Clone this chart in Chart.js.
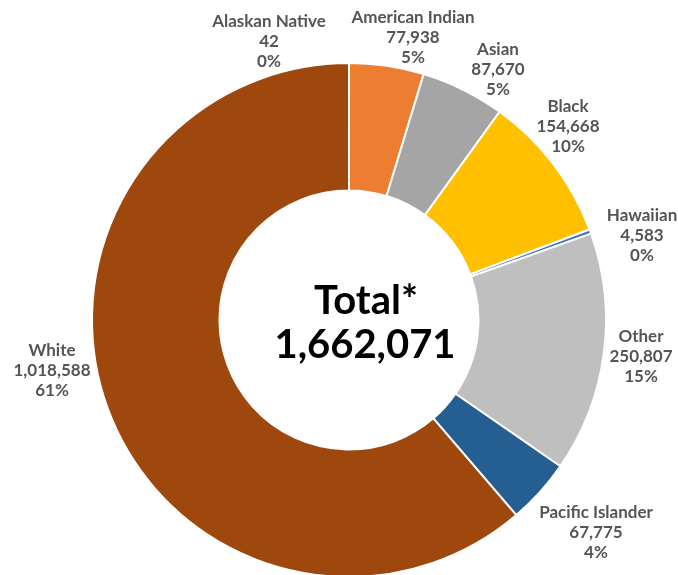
<!DOCTYPE html>
<html><head><meta charset="utf-8">
<script src="https://cdn.jsdelivr.net/npm/chart.js@4/dist/chart.umd.min.js"></script>
<style>
html,body{margin:0;padding:0;background:#fff;overflow:hidden;}
#wrap{position:relative;width:678px;height:600px;}
</style></head><body>
<div id="wrap"><canvas id="c"></canvas></div>
<script>
const categories = ["Alaskan Native","American Indian","Asian","Black","Hawaiian","Other","Pacific Islander","White"];
const populations = [42, 77938, 87670, 154668, 4583, 250807, 67775, 1018588];
const percentLabels = ["0%","5%","5%","10%","0%","15%","4%","61%"];
const totalLabel = ["Total*", "1,662,071"];
const colors = ["#4472C4","#ED7D31","#A5A5A5","#FFC000","#4472C4","#BFBFBF","#255E91","#9E480E"];
// label anchor offsets (middle line) relative to the doughnut centre
const labelOffsets = [[-80,-278],[64,-282],[149,-250],[219,-193],[293,-84],[292,37],[247,213],[-297,51]];

const fmt = n => n.toLocaleString('en-US');

const labelPlugin = {
  id: 'labelPlugin',
  afterDraw(chart) {
    const ctx = chart.ctx;
    const arc0 = chart.getDatasetMeta(0).data[0];
    const cx = arc0.x, cy = arc0.y;
    ctx.save();
    ctx.textAlign = 'center';
    ctx.textBaseline = 'middle';
    ctx.fillStyle = '#555555';
    ctx.font = 'bold 17px Lato';
    const lh = 20;
    categories.forEach((name, i) => {
      const x = cx + labelOffsets[i][0], y = cy + labelOffsets[i][1];
      const lines = [name, fmt(populations[i]), percentLabels[i]];
      lines.forEach((t, k) => ctx.fillText(t, x, y + (k - 1) * lh));
    });
    ctx.fillStyle = '#000';
    ctx.font = 'bold 40px Lato';
    ctx.fillText(totalLabel[0], cx + 17, cy - 19);
    ctx.fillText(totalLabel[1], cx + 16, cy + 25);
    ctx.restore();
  }
};

new Chart(document.getElementById('c'), {
  type: 'doughnut',
  data: {
    labels: categories,
    datasets: [{
      data: populations,
      backgroundColor: colors,
      borderColor: '#ffffff',
      borderWidth: 2
    }]
  },
  options: {
    responsive: true,
    maintainAspectRatio: false,
    animation: false,
    cutout: '50.4%',
    layout: { padding: { top: 62, bottom: 22, left: 91, right: 71 } },
    plugins: { legend: { display: false }, tooltip: { enabled: false } }
  },
  plugins: [labelPlugin]
});
</script>
</body></html>
